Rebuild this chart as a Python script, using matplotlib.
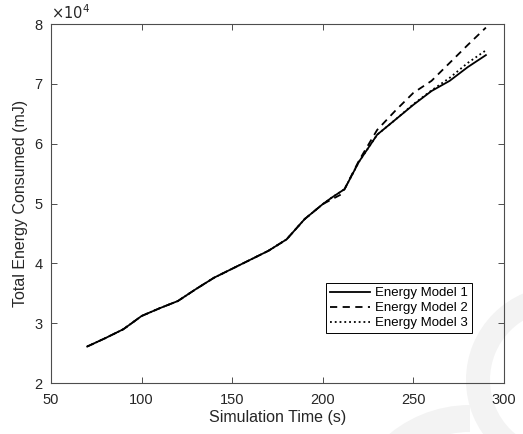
import numpy as np
import matplotlib
matplotlib.use("Agg")
import matplotlib.pyplot as plt
from matplotlib.patches import Wedge

plt.rcParams['font.family'] = ['Liberation Sans', 'DejaVu Sans']

# Simulation time (s) and total energy (mJ) for each energy model
sim_time = [70, 80, 90, 100, 110, 120, 130, 140, 150, 160, 170, 180, 190,
            200, 205, 210, 212, 220, 230, 240, 250, 260, 270, 280, 290]
energy_model_1 = [26100, 27500, 29000, 31200, 32500, 33700, 35700, 37600, 39100,
                  40600, 42100, 44000, 47400, 49900, 51000, 52000, 52400, 57000,
                  61500, 64000, 66500, 68800, 70500, 72800, 74800]
energy_model_2 = [26100, 27500, 29000, 31200, 32500, 33700, 35700, 37600, 39100,
                  40600, 42100, 44000, 47400, 49900, 50700, 51500, 52400, 57200,
                  62300, 65500, 68500, 70500, 73500, 76500, 79400]
energy_model_3 = [26100, 27500, 29000, 31200, 32500, 33700, 35700, 37600, 39100,
                  40600, 42100, 44000, 47400, 49900, 51000, 52000, 52400, 57000,
                  61500, 64000, 66600, 68900, 71000, 73500, 75600]

x_ticks = [50, 100, 150, 200, 250, 300]
y_ticks = [20000, 30000, 40000, 50000, 60000, 70000, 80000]
y_tick_labels = ['2', '3', '4', '5', '6', '7', '8']

W, H = 523, 434
fig = plt.figure(figsize=(W / 100, H / 100), dpi=100)

# faint logo rings in the lower right corner, given in pixels from the top-left
def ring(cx, cy, r_out, r_in, a0, a1):
    w = Wedge((cx / 100, (H - cy) / 100), r_out / 100, a0, a1,
              width=(r_out - r_in) / 100, transform=fig.dpi_scale_trans,
              facecolor='#f3f3f3', edgecolor='none', zorder=-1)
    fig.patches.append(w)

ring(560, 380, 94, 70, 0, 360)
ring(470, 532, 127, 100, 90, 180)

ax = fig.add_axes([0.0975, 0.1175, 0.8662, 0.8272])
ax.patch.set_alpha(0)

ax.plot(sim_time, energy_model_1, '-', color='black', lw=1.3, label='Energy Model 1')
ax.plot(sim_time, energy_model_2, '--', color='black', lw=1.3, dashes=(4, 3),
        label='Energy Model 2')
ax.plot(sim_time, energy_model_3, ':', color='black', lw=1.3, label='Energy Model 3')

ax.set_xlim(50, 300)
ax.set_ylim(20000, 80000)
ax.set_xticks(x_ticks)
ax.set_yticks(y_ticks)
ax.set_yticklabels(y_tick_labels)

axis_color = '#4d4d4d'
for s in ax.spines.values():
    s.set_color(axis_color)
    s.set_linewidth(0.8)
ax.tick_params(direction='in', top=True, right=True, length=4, width=0.7,
               colors=axis_color, labelcolor='#262626', labelsize=10.5)
ax.tick_params(axis='x', pad=7.5)
ax.tick_params(axis='y', pad=6)

ax.set_xlabel('Simulation Time (s)', fontsize=11.5, color='#262626', labelpad=2)
ax.set_ylabel('Total Energy Consumed (mJ)', fontsize=11.5, color='#262626', labelpad=5)
ax.text(0.0, 1.005, r'$\times10^{4}$', transform=ax.transAxes, fontsize=10.5,
        color='#262626', ha='left', va='bottom', math_fontfamily='dejavusans')

leg = ax.legend(loc='lower right', bbox_to_anchor=(0.929, 0.139), fontsize=9.5,
                fancybox=False, framealpha=1, edgecolor='black', handlelength=3.0,
                borderpad=0.3, labelspacing=0.2, handletextpad=0.4, borderaxespad=0)
leg.get_frame().set_linewidth(0.7)

fig.savefig('out.png', dpi=100)
